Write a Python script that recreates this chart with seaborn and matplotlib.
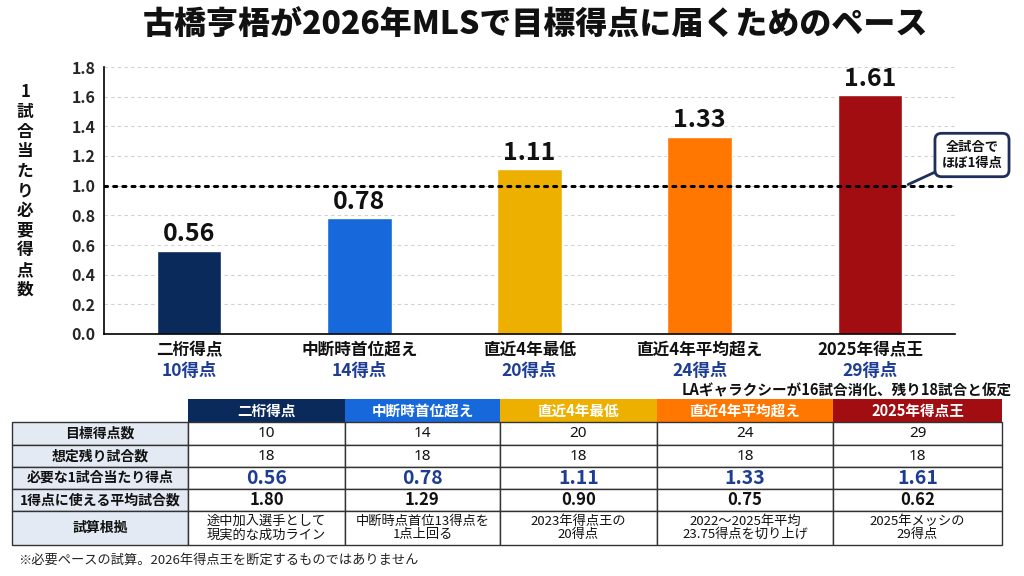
import matplotlib
matplotlib.use("Agg")
import matplotlib.pyplot as plt
import seaborn as sns
import pandas as pd
from matplotlib.patches import Rectangle
import matplotlib.transforms as mtransforms

# ---------------- data ----------------
categories = ["二桁得点", "中断時首位超え", "直近4年最低", "直近4年平均超え", "2025年得点王"]
goal_labels = ["10得点", "14得点", "20得点", "24得点", "29得点"]
target_goals = [10, 14, 20, 24, 29]
remaining_games = [18, 18, 18, 18, 18]
per_match = [0.56, 0.78, 1.11, 1.33, 1.61]
games_per_goal = ["1.80", "1.29", "0.90", "0.75", "0.62"]
basis = ["途中加入選手として\n現実的な成功ライン", "中断時点首位13得点を\n1点上回る",
         "2023年得点王の\n20得点", "2022～2025年平均\n23.75得点を切り上げ", "2025年メッシの\n29得点"]
row_labels = ["目標得点数", "想定残り試合数", "必要な1試合当たり得点", "1得点に使える平均試合数", "試算根拠"]
colors = ["#0b2a5c", "#1769db", "#eeb000", "#ff7700", "#a10d10"]
title = "古橋亨梧が2026年MLSで目標得点に届くためのペース"
ylabel = "1試合当たり必要得点数"
callout = "全試合で\nほぼ1得点"
assumption = "LAギャラクシーが16試合消化、残り18試合と仮定"
footnote = "※必要ペースの試算。2026年得点王を断定するものではありません"

df = pd.DataFrame({"cat": categories, "val": per_match})

sns.set_theme(style="white")
plt.rcParams["font.family"] = ["Noto Sans CJK JP", "DejaVu Sans"]
NUMFONT = ["Noto Sans", "Noto Sans CJK JP"]

fig = plt.figure(figsize=(10.24, 5.76), dpi=100)
W, H = 1024, 576
ax = fig.add_axes([104 / W, 242 / H, (955 - 104) / W, 267 / H])

sns.barplot(data=df, x="cat", y="val", hue="cat", palette=colors, legend=False,
            width=0.38, ax=ax, saturation=1)
ax.set_ylim(0, 1.8)
ax.set_xlim(-0.5, 4.5)
ax.set_yticks([i / 5 for i in range(10)])
ax.set_yticklabels([f"{i/5:.1f}" for i in range(10)], fontsize=11.5, fontweight="bold")
for y in [i / 5 for i in range(1, 10)]:
    ax.axhline(y, color="#d0d0d0", lw=0.8, ls=(0, (3, 3)), zorder=0)
ax.axhline(1.0, color="black", lw=2.2, ls=(0, (1, 2)), dash_capstyle="round", zorder=3)
for s in ["top", "right"]:
    ax.spines[s].set_visible(False)
for s in ["left", "bottom"]:
    ax.spines[s].set_color("black")
    ax.spines[s].set_linewidth(1.2)
ax.tick_params(axis="y", length=0, pad=6)
ax.tick_params(axis="x", length=0)
ax.set_xlabel("")
ax.set_ylabel("")
ax.set_xticks(range(len(categories)))
ax.set_xticklabels([])

trans = mtransforms.blended_transform_factory(ax.transData, ax.transAxes)
for i, (c, g, v) in enumerate(zip(categories, goal_labels, per_match)):
    ax.text(i, -0.06, c, transform=trans, ha="center", va="center", fontsize=12, fontweight="bold", color="#111111")
    ax.text(i, -0.14, g, transform=trans, ha="center", va="center", fontsize=12.5, fontweight="bold", color="#1d3c94")
    ax.text(i, v + 0.03, f"{v:.2f}", ha="center", va="bottom", fontsize=18, fontweight="bold", color="#111111")

ax.annotate(callout, xy=(4.21, 1.0), xytext=(972, 576 - 155), textcoords="figure pixels",
            ha="center", va="center", fontsize=9.5, fontweight="bold", color="#111111",
            bbox=dict(boxstyle="round,pad=0.5", fc="white", ec="#1f2f5a", lw=2),
            arrowprops=dict(arrowstyle="-", color="#1f2f5a", lw=2, shrinkA=0, shrinkB=2),
            annotation_clip=False, zorder=5)

fig.text(535 / W, 1 - 25 / H, title, ha="center", va="center", fontsize=23, fontweight=900, color="#111111")
fig.text(25 / W, 1 - 191 / H, "\n".join(ylabel), ha="center", va="center", fontsize=12,
         fontweight="bold", linespacing=1.13, color="#111111")
fig.text(1012 / W, 1 - 390 / H, assumption, ha="right", va="center", fontsize=10.5, fontweight="bold", color="#111111")
fig.text(18 / W, 1 - 560 / H, footnote, ha="left", va="center", fontsize=9.5, color="#222222")

# ---------------- table ----------------
tax = fig.add_axes([0, 0, 1, 1])
tax.set_xlim(0, W)
tax.set_ylim(H, 0)
tax.axis("off")
col_x = [12, 188, 345, 500, 657, 833, 1002]
row_y = [399, 422, 445, 467, 489, 511, 545]

# header
for j in range(5):
    x0, x1 = col_x[j + 1], col_x[j + 2]
    tax.add_patch(Rectangle((x0, row_y[0]), x1 - x0, row_y[1] - row_y[0], fc=colors[j], ec="none"))
    tax.text((x0 + x1) / 2, (row_y[0] + row_y[1]) / 2, categories[j], ha="center", va="center",
             fontsize=10.5, fontweight="bold", color="white")

table_rows = [
    [str(v) for v in target_goals],
    [str(v) for v in remaining_games],
    [f"{v:.2f}" for v in per_match],
    games_per_goal,
    basis,
]
for r in range(5):
    y0, y1 = row_y[r + 1], row_y[r + 2]
    tax.add_patch(Rectangle((col_x[0], y0), col_x[1] - col_x[0], y1 - y0, fc="#e4eaf3", ec="#333333", lw=1))
    tax.text((col_x[0] + col_x[1]) / 2, (y0 + y1) / 2, row_labels[r], ha="center", va="center",
             fontsize=10, fontweight="bold", color="#111111")
    for j in range(5):
        x0, x1 = col_x[j + 1], col_x[j + 2]
        tax.add_patch(Rectangle((x0, y0), x1 - x0, y1 - y0, fc="white", ec="#333333", lw=1))
        txt = table_rows[r][j]
        if r == 2:
            kw = dict(fontsize=14, fontweight="bold", color="#1d3c94")
        elif r == 3:
            kw = dict(fontsize=12, fontweight="bold", color="#111111")
        elif r == 4:
            kw = dict(fontsize=9.5, color="#111111", linespacing=1.05)
        else:
            kw = dict(fontsize=11, color="#111111", family=NUMFONT)
        tax.text((x0 + x1) / 2, (y0 + y1) / 2, txt, ha="center", va="center", **kw)

fig.savefig("out.png", dpi=100, facecolor="white")
